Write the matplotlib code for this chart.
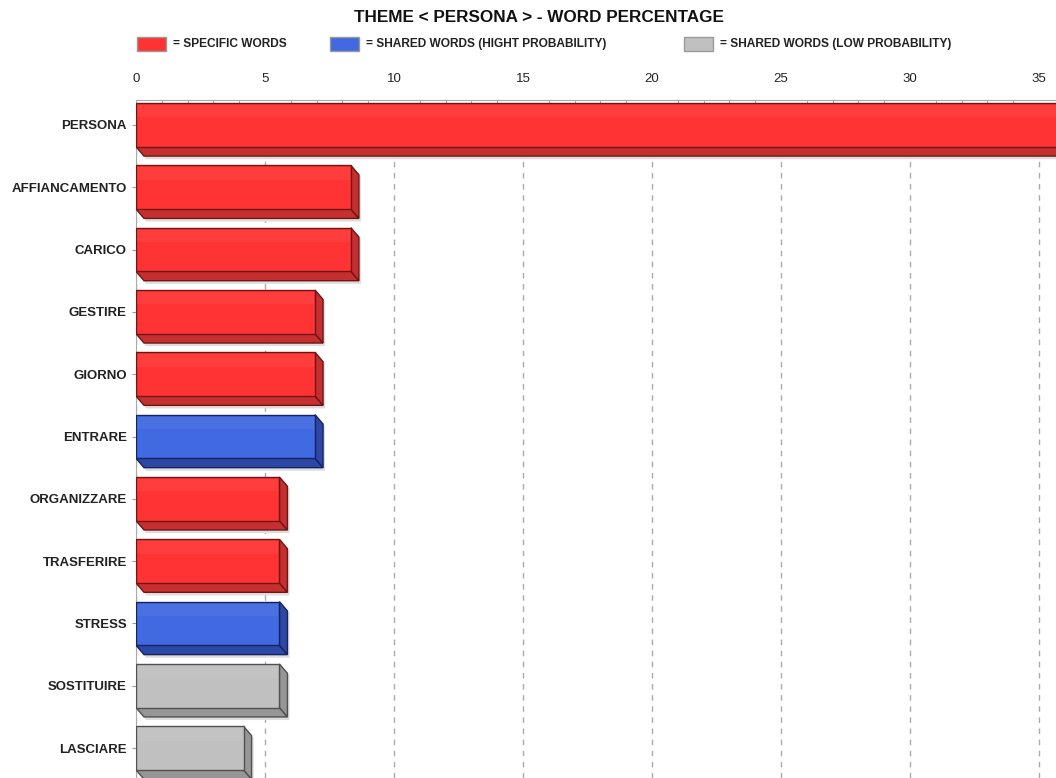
import matplotlib
matplotlib.use('Agg')
import matplotlib.pyplot as plt
from matplotlib.patches import Polygon, Rectangle
from matplotlib.ticker import MultipleLocator

# Dati del grafico
words = ["PERSONA", "AFFIANCAMENTO", "CARICO", "GESTIRE", "GIORNO", "ENTRARE",
         "ORGANIZZARE", "TRASFERIRE", "STRESS", "SOSTITUIRE", "LASCIARE"]
percent = [36.11, 8.33, 8.33, 6.94, 6.94, 6.94, 5.56, 5.56, 5.56, 5.56, 4.17]
kind = ["spec", "spec", "spec", "spec", "spec", "high",
        "spec", "spec", "high", "low", "low"]

legend_labels = {"spec": "= SPECIFIC WORDS",
                 "high": "= SHARED WORDS (HIGHT PROBABILITY)",
                 "low": "= SHARED WORDS (LOW PROBABILITY)"}

# colori: faccia frontale, facce laterali, bordo
colors = {"spec": ("#FF3333", "#C62F2F", "#6E1515"),
          "high": ("#4169E1", "#2D47A6", "#15245E"),
          "low": ("#C0C0C0", "#969696", "#505050")}

plt.rcParams['font.family'] = ['Liberation Sans', 'DejaVu Sans']

fig = plt.figure(figsize=(10.56, 7.78), dpi=100)
ax = fig.add_axes([136 / 1056, 0.0, 1 - 136 / 1056, 1 - 100 / 778])

h = 0.70     # altezza barra
dx = 0.31    # profondita 3D in x
dy = 0.15    # profondita 3D in y

for i, (w, v, k) in enumerate(zip(words, percent, kind)):
    front, side, edge = colors[k]
    top = i - h / 2
    bot = i + h / 2
    # ombra leggera
    ax.add_patch(Polygon([(dx, bot + dy), (v + dx, bot + dy), (v + dx, top + dy),
                          (v + dx + 0.08, top + dy + 0.03), (v + dx + 0.08, bot + dy + 0.05),
                          (dx + 0.08, bot + dy + 0.05)],
                         closed=True, facecolor="#DDDDDD", edgecolor="none", zorder=2))
    # faccia inferiore
    ax.add_patch(Polygon([(0, bot), (v, bot), (v + dx, bot + dy), (dx, bot + dy)],
                         closed=True, facecolor=side, edgecolor=edge, lw=1.0, zorder=3))
    # faccia laterale
    ax.add_patch(Polygon([(v, top), (v + dx, top + dy), (v + dx, bot + dy), (v, bot)],
                         closed=True, facecolor=side, edgecolor=edge, lw=1.0, zorder=3))
    # faccia frontale
    ax.add_patch(Rectangle((0, top), v, h, facecolor=front, edgecolor=edge,
                           lw=1.0, zorder=4))
    # riflesso superiore
    ax.add_patch(Rectangle((0.05, top + 0.03), v - 0.1, 0.2, facecolor="white",
                           edgecolor="none", alpha=0.05, zorder=5))

ax.set_xlim(0, 35.66)
ax.set_ylim(10.48, -0.4)

ax.xaxis.tick_top()
ax.xaxis.set_major_locator(MultipleLocator(5))
ax.xaxis.set_minor_locator(MultipleLocator(1))
ax.tick_params(axis='x', which='major', length=0, pad=11, labelsize=9.5,
               labelcolor="#222222")
ax.tick_params(axis='x', which='minor', direction='in', length=2.5, color="#999999")
ax.set_yticks(range(len(words)))
ax.set_yticklabels(words, fontsize=9.5, fontweight='bold', color="#222222")
ax.tick_params(axis='y', length=3, color="#999999", pad=3.5)

ax.grid(True, axis='x', which='major', linestyle=(0, (4, 4)), color="#AAAAAA", lw=1.0, zorder=0)
ax.set_axisbelow(True)
for s in ['right', 'bottom']:
    ax.spines[s].set_visible(False)
ax.spines['top'].set_color("#AAAAAA")
ax.spines['left'].set_color("#AAAAAA")

# titolo
fig.text(539 / 1056, 1 - 18 / 778, "THEME < PERSONA > - WORD PERCENTAGE",
         ha='center', va='center', fontsize=12.3, fontweight='bold', color="#111111")

# legenda
leg_x = [137, 330, 684]
for k, x0 in zip(["spec", "high", "low"], leg_x):
    front, side, edge = colors[k]
    fig.patches.append(Rectangle((x0 / 1056, 1 - 51 / 778), 29 / 1056, 14 / 778,
                                 transform=fig.transFigure, facecolor=front,
                                 edgecolor="#999999", lw=1.0))
    fig.text((x0 + 36) / 1056, 1 - 44 / 778, legend_labels[k], ha='left', va='center',
             fontsize=8.6, fontweight='bold', color="#222222")

plt.savefig("out.png", dpi=100)
